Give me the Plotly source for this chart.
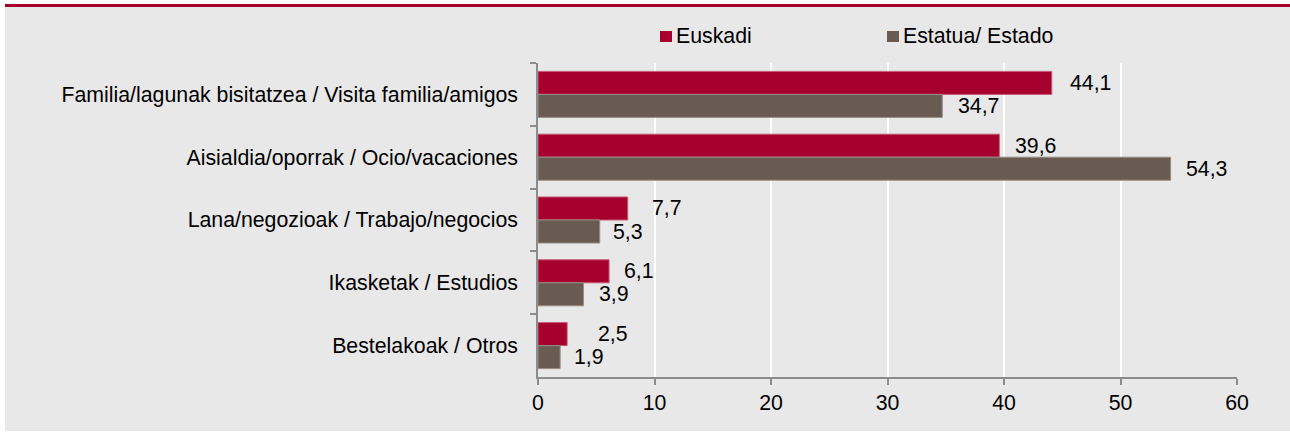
import plotly.graph_objects as go

# ---- data ----
categories = [
    "Familia/lagunak bisitatzea / Visita familia/amigos",
    "Aisialdia/oporrak / Ocio/vacaciones",
    "Lana/negozioak / Trabajo/negocios",
    "Ikasketak / Estudios",
    "Bestelakoak / Otros",
]
series_names = ["Euskadi", "Estatua/ Estado"]
euskadi = [44.1, 39.6, 7.7, 6.1, 2.5]
estado = [34.7, 54.3, 5.3, 3.9, 1.9]
euskadi_labels = ["44,1", "39,6", "7,7", "6,1", "2,5"]
estado_labels = ["34,7", "54,3", "5,3", "3,9", "1,9"]
x_ticks = [0, 10, 20, 30, 40, 50, 60]

# label offsets (px) to the right of each bar end, as in the original
euskadi_label_shift = [16.5, 14, 22.5, 13, 29]
estado_label_shift = [14, 13.5, 11, 13.5, 11.5]

# ---- style ----
W, H = 1290, 432
L, R, T, B = 538, 53, 63, 55
FONT = "Liberation Sans, Arial, sans-serif"
FS = 21.3
RED = "#A6002F"
BROWN = "#695B51"
COLORS = [RED, BROWN]
EDGES = ["#C65A78", "#988C84"]
BG = "#E8E8E8"
AXIS = "#8C8C8C"
LEGEND_X = [660, 887]   # left edge (px) of each legend swatch
LEGEND_Y = 36.5         # vertical centre (px) of the legend row

pw = W - L - R
ph = H - T - B


def px_x(px):
    return (px - L) / pw


def px_y(py):
    return (H - B - py) / ph


fig = go.Figure()
for name, vals, col, edge in zip(series_names, (euskadi, estado), COLORS, EDGES):
    fig.add_trace(go.Bar(
        y=categories, x=vals, name=name, orientation="h",
        marker=dict(color=col, line=dict(color=edge, width=1)),
    ))

half = ph / len(categories) * (1 - 0.267) / 4  # half of one bar thickness in px
annotations = []
for vals, labs, shifts, ys in ((euskadi, euskadi_labels, euskadi_label_shift, half),
                               (estado, estado_labels, estado_label_shift, -half)):
    for c, v, t, s in zip(categories, vals, labs, shifts):
        annotations.append(dict(
            x=v, y=c, xref="x", yref="y", text=t, showarrow=False,
            xanchor="left", yanchor="middle", xshift=s, yshift=ys,
            font=dict(family=FONT, size=FS, color="#000000"),
        ))

shapes = [
    # grey panel
    dict(type="rect", xref="paper", yref="paper", layer="below",
         x0=px_x(5), x1=px_x(1290), y0=px_y(431), y1=px_y(7),
         fillcolor=BG, line=dict(width=0)),
    # red top rule
    dict(type="rect", xref="paper", yref="paper", layer="below",
         x0=px_x(5), x1=px_x(1290), y0=px_y(7), y1=px_y(4),
         fillcolor=RED, line=dict(width=0)),
]

# legend (swatch + text) laid out like the original
for name, col, lx in zip(series_names, COLORS, LEGEND_X):
    shapes.append(dict(
        type="rect", xref="paper", yref="paper", layer="above",
        x0=px_x(lx), x1=px_x(lx + 12),
        y0=px_y(LEGEND_Y + 5.5), y1=px_y(LEGEND_Y - 5.5),
        fillcolor=col, line=dict(width=0),
    ))
    annotations.append(dict(
        x=px_x(lx + 13.5), y=px_y(LEGEND_Y), xref="paper", yref="paper",
        text=name, showarrow=False, xanchor="left", yanchor="middle",
        font=dict(family=FONT, size=FS, color="#000000"),
    ))

fig.update_layout(
    width=W, height=H,
    margin=dict(l=L, r=R, t=T, b=B, pad=0),
    paper_bgcolor="#FFFFFF",
    plot_bgcolor="rgba(0,0,0,0)",
    barmode="group", bargap=0.267, bargroupgap=0,
    font=dict(family=FONT, size=FS, color="#000000"),
    shapes=shapes,
    annotations=annotations,
    showlegend=False,
    xaxis=dict(
        range=[0, 60], tickmode="array", tickvals=x_ticks,
        ticktext=[str(v) for v in x_ticks],
        showgrid=True, gridcolor="#FFFFFF", gridwidth=1.5,
        showline=True, linecolor=AXIS, linewidth=1.5,
        ticks="outside", ticklen=6, tickcolor=AXIS, tickwidth=1.5,
        zeroline=False, fixedrange=True,
        tickfont=dict(family=FONT, size=FS, color="#000000"),
    ),
    yaxis=dict(
        categoryorder="array", categoryarray=categories, autorange="reversed",
        showgrid=False, showline=True, linecolor=AXIS, linewidth=1.5,
        ticks="outside", ticklen=6, tickcolor=AXIS, tickwidth=1.5,
        tickson="boundaries", zeroline=False, fixedrange=True,
        ticklabelstandoff=14,
        tickfont=dict(family=FONT, size=FS, color="#000000"),
    ),
)

fig.write_html(
    "out.html",
    config={"displayModeBar": False},
    post_script="document.body.style.margin='0px';",
)
